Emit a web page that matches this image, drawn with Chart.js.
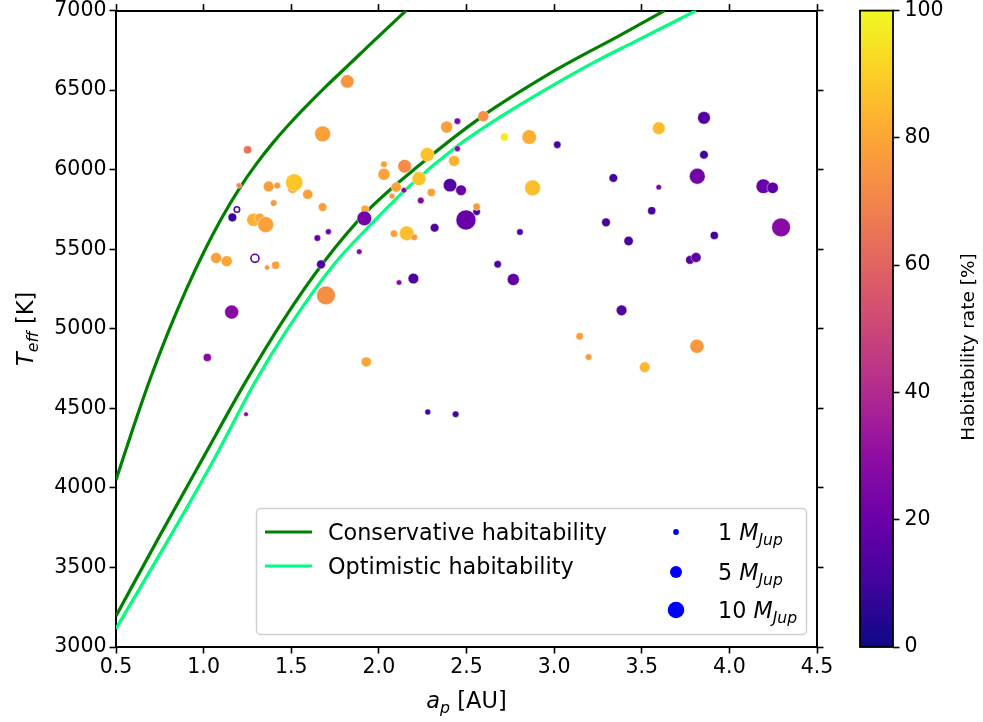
<!DOCTYPE html>
<html>
<head>
<meta charset="utf-8">
<script src="https://cdn.jsdelivr.net/npm/chart.js@4.4.0/dist/chart.umd.min.js"></script>
<style>
  html, body { margin: 0; padding: 0; background: #fff; }
  canvas { display: block; }
</style>
</head>
<body>
<canvas id="hz-chart" width="983" height="722"></canvas>
<script>
// Planets: semi-major axis [AU], host star T_eff [K], mass [M_Jup], habitability rate [%]
const semiMajorAxis = [
  1.820, 1.679, 1.251, 1.202, 1.371, 1.420, 1.508, 1.517, 1.594, 1.400,
  1.679, 1.164, 1.283, 1.320, 1.354, 1.649, 1.712, 1.071, 1.132, 1.362,
  1.411, 1.670, 1.888, 1.698, 1.160, 1.021, 1.242, 1.928, 2.448, 2.387,
  2.596, 2.716, 2.858, 3.018, 2.448, 2.276, 2.029, 2.029, 2.147, 2.429,
  2.229, 2.099, 2.075, 2.143, 2.406, 2.469, 2.299, 2.239, 2.558, 2.558,
  2.497, 1.921, 1.917, 2.086, 2.159, 2.202, 2.318, 2.805, 2.678, 2.115,
  2.197, 2.767, 3.146, 3.197, 2.279, 2.438, 3.597, 3.855, 3.855, 3.338,
  3.597, 3.817, 4.194, 4.247, 3.557, 3.296, 3.425, 3.914, 4.295, 3.775,
  3.810, 3.385, 3.517, 3.815, 2.877
];
const effTemp = [
  6555, 6225, 6125, 5900, 5895, 5900, 5885, 5920, 5845, 5790,
  5765, 5700, 5685, 5695, 5655, 5570, 5610, 5445, 5425, 5385,
  5400, 5405, 5485, 5210, 5105, 4820, 4463, 4792, 6305, 6268,
  6336, 6205, 6205, 6157, 6132, 6095, 6034, 5971, 6022, 6055,
  5944, 5890, 5834, 5871, 5903, 5871, 5857, 5806, 5736, 5767,
  5684, 5752, 5694, 5598, 5600, 5575, 5635, 5608, 5406, 5291,
  5316, 5310, 4953, 4822, 4477, 4463, 6261, 6326, 6094, 5948,
  5890, 5959, 5896, 5886, 5742, 5669, 5552, 5587, 5637, 5433,
  5448, 5116, 4759, 4890, 5886
];
const planetMass = [
  7.2, 10, 2.6, 1.2, 4.5, 1.7, 4.5, 12, 4, 1.7,
  3, 3, 6.8, 4, 10, 1.7, 1.4, 4.8, 4.8, 1,
  2.6, 3.2, 1.2, 14, 7.8, 2.6, 0.85, 4, 1.7, 5.8,
  4.8, 2.6, 8.5, 2.2, 1.4, 7.8, 1.7, 5.8, 7.2, 4.8,
  7.8, 4, 1.4, 1.2, 7.2, 4.5, 2.6, 1.7, 2.2, 2.2,
  16, 2.6, 8.5, 2.2, 8.5, 1.7, 3, 1.7, 2.2, 1.2,
  4.5, 5.8, 2.2, 1.7, 1.4, 1.7, 6.4, 6.4, 3, 3,
  1.2, 10, 8.5, 5.2, 2.6, 3, 3.5, 2.6, 14, 3,
  4, 4.5, 4.5, 7.8, 10
];
const habRate = [
  75, 78, 64, 70, 77, 76, 79, 88, 78, 76,
  78, 8, 83, 80, 78, 20, 22, 78, 80, 76,
  78, 12, 25, 73, 28, 28, 28, 80, 25, 78,
  74, 97, 82, 12, 28, 87, 78, 79, 72, 83,
  87, 79, 77, 25, 15, 20, 78, 25, 12, 77,
  20, 80, 22, 78, 86, 76, 13, 12, 12, 28,
  13, 18, 78, 77, 12, 10, 85, 14, 11, 12,
  24, 22, 20, 17, 12, 12, 13, 10, 28, 15,
  18, 15, 84, 76, 86
];

// Two planets drawn as open circles
const openA = [1.19, 1.293];
const openTeff = [5750, 5443];
const openMass = [1.2, 2.6];
const openRate = [15, 15];

// Habitable zone limits
const consInnerA = [0.5, 0.6, 0.7, 0.8, 0.9, 1.0, 1.1, 1.2, 1.3, 1.4, 1.5, 1.6, 1.7, 1.8, 1.9, 2.0, 2.155];
const consInnerT = [4050, 4385, 4700, 4985, 5245, 5480, 5690, 5875, 6035, 6175, 6300, 6415, 6525, 6630, 6735, 6840, 7000];
const consOuterA = [0.5, 0.75, 1.0, 1.236, 1.455, 1.683, 1.93, 2.216, 2.596, 2.976, 3.15, 3.36, 3.63];
const consOuterT = [3195, 3700, 4195, 4660, 5055, 5415, 5736, 6015, 6340, 6605, 6712, 6835, 7000];
const optOuterA = [0.5, 0.884, 1.075, 1.288, 1.474, 1.74, 1.949, 2.178, 2.45, 2.691, 3.072, 3.262, 3.452, 3.81];
const optOuterT = [3115, 3837, 4212, 4655, 4990, 5400, 5650, 5900, 6150, 6330, 6580, 6695, 6800, 7000];

const xTicksMin = 0.5, xTicksMax = 4.5, xStep = 0.5;
const yTicksMin = 3000, yTicksMax = 7000, yStep = 500;
const cbMin = 0, cbMax = 100, cbStep = 20;
const legendMasses = [1, 5, 10];

const PLASMA = ['#0d0887', '#41049d', '#6a00a8', '#8f0da4', '#b12a90', '#cc4778',
                '#e16462', '#f2844b', '#fca636', '#fcce25', '#f0f921'];
const FONT = '"DejaVu Sans"';
const TICK_SIZE = 20.5;
const TITLE_SIZE = 22.5;
const LEGEND_SIZE = 22.3;

function hexToRgb(h) {
  return [parseInt(h.slice(1, 3), 16), parseInt(h.slice(3, 5), 16), parseInt(h.slice(5, 7), 16)];
}

function plasma(v) {
  const t = Math.min(Math.max(v / 100, 0), 1) * (PLASMA.length - 1);
  const i = Math.min(Math.floor(t), PLASMA.length - 2);
  const f = t - i;
  const a = hexToRgb(PLASMA[i]), b = hexToRgb(PLASMA[i + 1]);
  const c = a.map((ch, k) => Math.round(ch + (b[k] - ch) * f));
  return `rgb(${c[0]},${c[1]},${c[2]})`;
}

const massRadius = (m) => 2.5 * Math.sqrt(m);
const toPoints = (xs, ys) => xs.map((x, i) => ({ x, y: ys[i] }));

// text with italic / subscript pieces
function richWidth(ctx, parts, size) {
  let w = 0;
  parts.forEach((p) => {
    const s = p.sub ? size * 0.7 : size;
    ctx.font = `${p.it ? 'italic ' : ''}${s}px ${FONT}`;
    w += ctx.measureText(p.t).width;
  });
  return w;
}

function drawRich(ctx, parts, x, y, size, align) {
  let cx = align === 'center' ? x - richWidth(ctx, parts, size) / 2 : x;
  ctx.textAlign = 'left';
  ctx.textBaseline = 'alphabetic';
  parts.forEach((p) => {
    const s = p.sub ? size * 0.7 : size;
    ctx.font = `${p.it ? 'italic ' : ''}${s}px ${FONT}`;
    ctx.fillText(p.t, cx, y + (p.sub ? size * 0.22 : 0));
    cx += ctx.measureText(p.t).width;
  });
}

const decorPlugin = {
  id: 'decor',
  beforeDraw(chart) {
    // colorbar
    const ctx = chart.ctx;
    const cb = chart.scales.cb;
    const left = 860, right = 893;
    const grad = ctx.createLinearGradient(0, cb.bottom, 0, cb.top);
    PLASMA.forEach((c, i) => grad.addColorStop(i / (PLASMA.length - 1), c));
    ctx.save();
    ctx.fillStyle = grad;
    ctx.fillRect(left, cb.top, right - left, cb.bottom - cb.top);
    ctx.strokeStyle = '#000';
    ctx.lineWidth = 1.8;
    ctx.strokeRect(left, cb.top, right - left, cb.bottom - cb.top);
    ctx.restore();
  },
  afterDatasetsDraw(chart) {
    const ctx = chart.ctx;
    ctx.save();
    // legend box
    const bx = 256.5, by = 508.5, bw = 550, bh = 126;
    ctx.beginPath();
    ctx.roundRect(bx, by, bw, bh, 4);
    ctx.fillStyle = 'rgba(255,255,255,0.8)';
    ctx.fill();
    ctx.strokeStyle = '#d0d0d0';
    ctx.lineWidth = 1.5;
    ctx.stroke();

    const rows = [532, 566];
    const lineColors = ['#008000', '#00ff7f'];
    const lineNames = ['Conservative habitability', 'Optimistic habitability'];
    rows.forEach((ry, i) => {
      ctx.beginPath();
      ctx.moveTo(265, ry);
      ctx.lineTo(312, ry);
      ctx.strokeStyle = lineColors[i];
      ctx.lineWidth = 3.2;
      ctx.stroke();
      ctx.fillStyle = '#000';
      drawRich(ctx, [{ t: lineNames[i] }], 328, ry + 8, LEGEND_SIZE, 'left');
    });

    const sizeRows = [532, 572, 610];
    legendMasses.forEach((m, i) => {
      ctx.beginPath();
      ctx.arc(676, sizeRows[i], massRadius(m) + 0.4, 0, Math.PI * 2);
      ctx.fillStyle = '#0000ff';
      ctx.fill();
      ctx.fillStyle = '#000';
      drawRich(ctx, [{ t: m + ' ' }, { t: 'M', it: true }, { t: 'Jup', it: true, sub: true }],
        718, sizeRows[i] + 8, LEGEND_SIZE, 'left');
    });
    ctx.restore();
  },
  afterDraw(chart) {
    const ctx = chart.ctx;
    const area = chart.chartArea;
    ctx.save();
    ctx.fillStyle = '#000';
    // x title
    drawRich(ctx, [{ t: 'a', it: true }, { t: 'p', it: true, sub: true }, { t: ' [AU]' }],
      (area.left + area.right) / 2, 708, TITLE_SIZE, 'center');
    // y title
    ctx.save();
    ctx.translate(33, (area.top + area.bottom) / 2);
    ctx.rotate(-Math.PI / 2);
    drawRich(ctx, [{ t: 'T', it: true }, { t: 'eff', it: true, sub: true }, { t: ' [K]' }],
      0, 0, TITLE_SIZE, 'center');
    ctx.restore();
    // colorbar title
    ctx.save();
    ctx.translate(974, 347);
    ctx.rotate(-Math.PI / 2);
    drawRich(ctx, [{ t: 'Habitability rate [%]' }], 0, 0, 18.5, 'center');
    ctx.restore();
    ctx.restore();
  }
};

function fixSize(dim, value) {
  return (scale) => {
    scale[dim] = value;
    scale.paddingTop = 0;
    scale.paddingBottom = 0;
    scale.paddingLeft = 0;
    scale.paddingRight = 0;
  };
}

const tickGrid = {
  display: true,
  drawOnChartArea: false,
  drawTicks: true,
  tickLength: 6.5,
  tickWidth: 1.6,
  tickColor: '#000',
  color: '#000'
};
const frame = { display: true, color: '#000', width: 2 };

Chart.defaults.font.family = FONT;
Chart.defaults.color = '#000';

const ctx = document.getElementById('hz-chart').getContext('2d');
new Chart(ctx, {
  type: 'scatter',
  data: {
    datasets: [
      {
        label: 'Planets',
        data: toPoints(semiMajorAxis, effTemp),
        pointRadius: planetMass.map(massRadius),
        pointHoverRadius: planetMass.map(massRadius),
        backgroundColor: habRate.map(plasma),
        borderColor: 'rgba(255,255,255,0.7)',
        borderWidth: 0.6,
        order: 0
      },
      {
        label: 'Open',
        data: toPoints(openA, openTeff),
        pointRadius: openMass.map(massRadius),
        backgroundColor: '#ffffff',
        borderColor: openRate.map(plasma),
        borderWidth: 1.6,
        order: 0
      },
      {
        type: 'line',
        label: 'Conservative habitability',
        data: toPoints(consInnerA, consInnerT),
        borderColor: '#008000',
        borderWidth: 3.2,
        pointRadius: 0,
        cubicInterpolationMode: 'monotone',
        fill: false,
        order: 2
      },
      {
        type: 'line',
        label: 'Conservative habitability (outer)',
        data: toPoints(consOuterA, consOuterT),
        borderColor: '#008000',
        borderWidth: 3.2,
        pointRadius: 0,
        cubicInterpolationMode: 'monotone',
        fill: false,
        order: 2
      },
      {
        type: 'line',
        label: 'Optimistic habitability',
        data: toPoints(optOuterA, optOuterT),
        borderColor: '#00ff7f',
        borderWidth: 3.2,
        pointRadius: 0,
        cubicInterpolationMode: 'monotone',
        fill: false,
        order: 2
      }
    ]
  },
  options: {
    responsive: false,
    maintainAspectRatio: false,
    animation: false,
    layout: { padding: 0 },
    plugins: { legend: { display: false }, tooltip: { enabled: false } },
    scales: {
      x: {
        type: 'linear', position: 'bottom', min: xTicksMin, max: xTicksMax,
        ticks: { stepSize: xStep, font: { size: TICK_SIZE }, padding: 2,
                 callback: (v) => v.toFixed(1) },
        grid: tickGrid, border: frame,
        afterFit: fixSize('height', 75)
      },
      x2: {
        type: 'linear', axis: 'x', position: 'top', min: xTicksMin, max: xTicksMax,
        ticks: { stepSize: xStep, display: false },
        grid: tickGrid, border: frame,
        afterFit: fixSize('height', 8)
      },
      y: {
        type: 'linear', position: 'left', min: yTicksMin, max: yTicksMax,
        ticks: { stepSize: yStep, font: { size: TICK_SIZE }, padding: 3,
                 callback: (v) => String(v) },
        grid: tickGrid, border: frame,
        afterFit: fixSize('width', 116)
      },
      y2: {
        type: 'linear', axis: 'y', position: 'right', weight: 0, min: yTicksMin, max: yTicksMax,
        ticks: { stepSize: yStep, display: false },
        grid: tickGrid, border: frame,
        afterFit: fixSize('width', 76)
      },
      cb: {
        type: 'linear', axis: 'y', position: 'right', weight: 1, min: cbMin, max: cbMax,
        ticks: { stepSize: cbStep, font: { size: TICK_SIZE }, padding: 5,
                 callback: (v) => String(v) },
        grid: tickGrid, border: { display: false },
        afterFit: fixSize('width', 90)
      }
    }
  },
  plugins: [decorPlugin]
});
</script>
</body>
</html>
